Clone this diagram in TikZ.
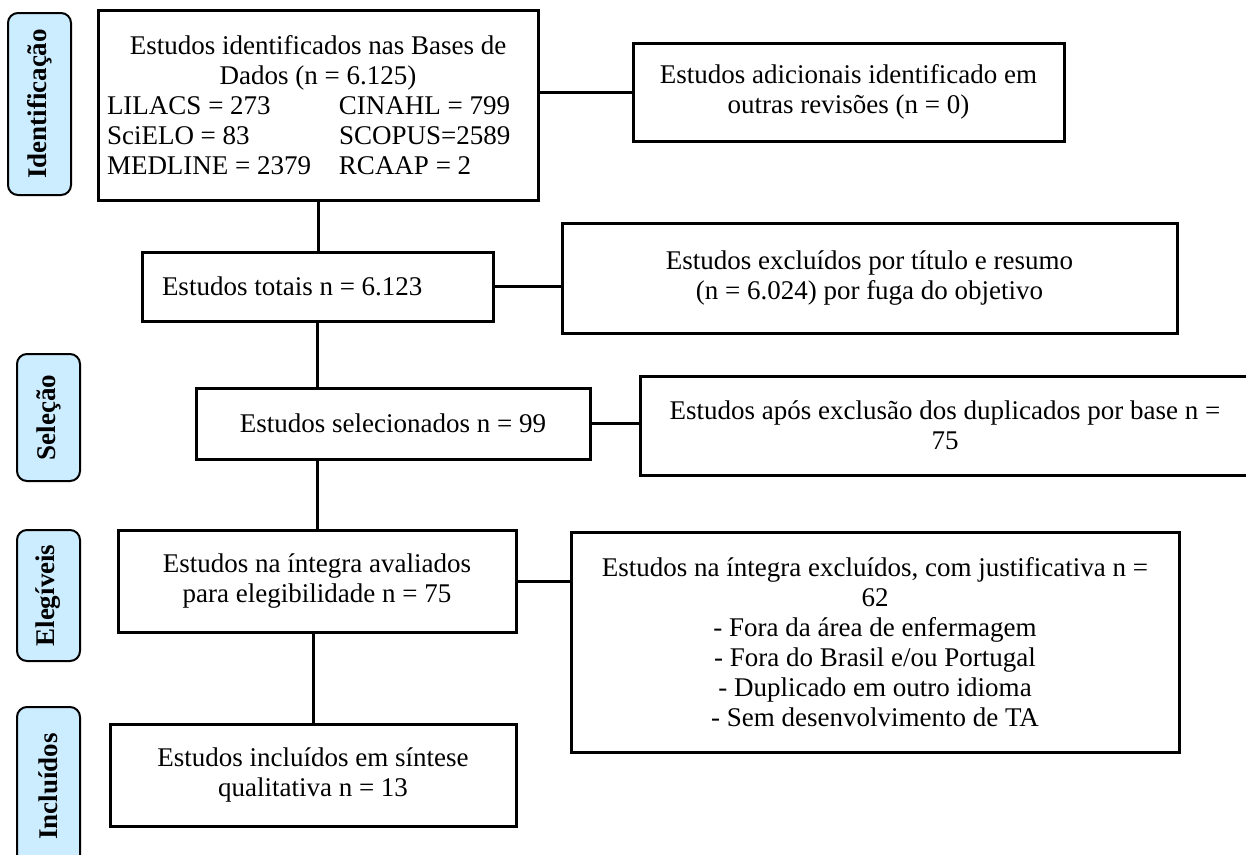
\documentclass[tikz,border=0pt]{standalone}
\usepackage{fontspec}
\setmainfont{Liberation Serif}
\definecolor{stageblue}{RGB}{204,236,255}
% one row of the two columns of bases
\newcommand{\basepair}[2]{\makebox[232pt][l]{#1}\makebox[190pt][l]{#2}}
\tikzset{
stage_box/.style={
	% The shape:
	rectangle,
	rounded corners=10pt,
	% The size (along the text):
	minimum width=#1,
	minimum height=63pt,
	% The border:
	line width=2pt,
	draw=black,
	% The filling:
	fill=stageblue,
	% turned on its side
	rotate=90,
	% Font
	font=\fontsize{27}{30}\selectfont\bfseries
},
stage_box/.default=130pt,
study_box/.style={
	% The shape:
	rectangle,
	inner sep=0pt,
	% The border:
	line width=3pt,
	draw=black,
	% The filling:
	fill=white,
	% Font
	align=center,
	font=\fontsize{27}{30}\selectfont
},
link/.style={line width=3pt}
}
\begin{document}
\begin{tikzpicture}[x=1pt,y=-1pt]
	\useasboundingbox (0,0) rectangle (1246,854);
	% stages on the left
	\node[stage_box=182pt] (id_stage) at (39.5,104) {Identificação};
	\node[stage_box=127pt] (sel_stage) at (48.5,417.5) {Seleção};
	\node[stage_box=131pt] (elig_stage) at (48.5,595.5) {Elegíveis};
	\node[stage_box=159pt] (inc_stage) at (48.5,786.5) {Incluídos};
	% main column
	\node[study_box, minimum width=440pt, minimum height=190pt] (id_box) at (318,105)
		{Estudos identificados nas Bases de\\Dados (n = 6.125)\\
		\basepair{LILACS = 273}{CINAHL = 799}\\
		\basepair{SciELO = 83}{SCOPUS=2589}\\
		\basepair{MEDLINE = 2379}{RCAAP = 2}};
	\node[study_box, minimum width=351pt, minimum height=69pt,
		text width=311pt, align=flush left, inner xsep=20pt] (total_box) at (317.5,286.5)
		{Estudos totais n = 6.123};
	\node[study_box, minimum width=394pt, minimum height=71pt] (sel_box) at (393,423.5)
		{Estudos selecionados n = 99};
	\node[study_box, minimum width=398pt, minimum height=102pt] (elig_box) at (317,581)
		{Estudos na íntegra avaliados\\para elegibilidade n = 75};
	\node[study_box, minimum width=406pt, minimum height=102pt] (inc_box) at (313,775)
		{Estudos incluídos em síntese\\qualitativa n = 13};
	% side column
	\node[study_box, minimum width=431pt, minimum height=98pt] (add_box) at (848.5,92)
		{Estudos adicionais identificado em\\outras revisões (n = 0)};
	\node[study_box, minimum width=615pt, minimum height=110pt] (excl_box) at (869.5,278)
		{Estudos excluídos por título e resumo\\(n = 6.024) por fuga do objetivo};
	\node[study_box, minimum width=610pt, minimum height=99pt] (dup_box) at (945,425.5)
		{Estudos após exclusão dos duplicados por base n =\\75};
	\node[study_box, minimum width=608pt, minimum height=220pt] (just_box) at (875,642)
		{Estudos na íntegra excluídos, com justificativa n =\\62\\
		- Fora da área de enfermagem\\- Fora do Brasil e/ou Portugal\\
		- Duplicado em outro idioma\\- Sem desenvolvimento de TA};
	% connectors
	\draw[link] (id_box.south) -- (id_box.south |- total_box.north);
	\draw[link] (id_box.east |- add_box.west) -- (add_box.west);
	\draw[link] (total_box.east) -- (total_box.east -| excl_box.west);
	\draw[link] (total_box.south) -- (total_box.south |- sel_box.north);
	\draw[link] (sel_box.east) -- (sel_box.east -| dup_box.west);
	\draw[link] (elig_box.north) -- (elig_box.north |- sel_box.south);
	\draw[link] (elig_box.east) -- (elig_box.east -| just_box.west);
	\draw[link] (inc_box.north) -- (inc_box.north |- elig_box.south);
\end{tikzpicture}
\end{document}
